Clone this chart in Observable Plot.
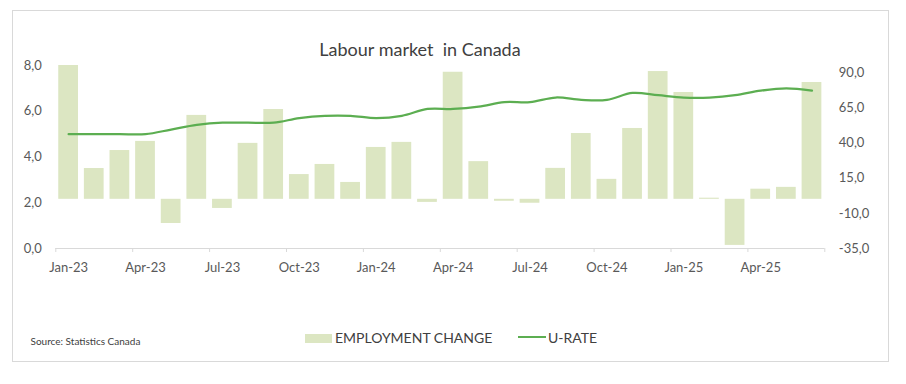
<!DOCTYPE html>
<html>
<head>
<meta charset="utf-8">
<script src="https://cdn.jsdelivr.net/npm/d3@7"></script>
<script src="https://cdn.jsdelivr.net/npm/@observablehq/plot@0.6"></script>
<style>
  body { margin: 0; background: #fff; }
  #wrap { position: relative; width: 906px; height: 384px; font-family: Lato, "Open Sans", sans-serif; overflow: hidden; }
  #frame { position: absolute; left: 12px; top: 10px; width: 877px; height: 352px; box-sizing: border-box; border: 1px solid #d9d9d9; }
  #chart { position: absolute; left: 0; top: 0; }
  .txt { position: absolute; line-height: 1; white-space: pre; }
  #title { left: 420px; top: 39.7px; font-size: 18px; color: #404040; transform: translateX(-50%); }
  #source { left: 30.5px; top: 336.3px; font-size: 10px; color: #404040; }
  .leg { font-size: 14px; color: #404040; top: 331px; }
  .sw { position: absolute; }
</style>
</head>
<body>
<div id="wrap">
  <div id="frame"></div>
  <div id="chart"></div>
  <div id="title" class="txt">Labour market  in Canada</div>
  <div class="sw" style="left:305px;top:334px;width:27px;height:9px;background:#dce6c2"></div>
  <div class="txt leg" style="left:335px">EMPLOYMENT CHANGE</div>
  <div class="sw" style="left:518px;top:336.3px;width:28px;height:2px;background:#5cae51"></div>
  <div class="txt leg" style="left:548px">U-RATE</div>
  <div id="source" class="txt">Source: Statistics Canada</div>
</div>
<script>
const months = [
  "Jan-23","Feb-23","Mar-23","Apr-23","May-23","Jun-23","Jul-23","Aug-23","Sep-23","Oct-23","Nov-23","Dec-23",
  "Jan-24","Feb-24","Mar-24","Apr-24","May-24","Jun-24","Jul-24","Aug-24","Sep-24","Oct-24","Nov-24","Dec-24",
  "Jan-25","Feb-25","Mar-25","Apr-25","May-25","Jun-25"
];
// Employment change (thousands), right axis
const employmentChange = [
  150, 21.9, 34.7, 41.2, -17.2, 59.7, -6.5, 39.8, 63.9, 17.6, 24.8, 12.0,
  36.9, 40.5, -2.2, 90.4, 26.8, -1.4, -2.8, 22.0, 46.8, 14.2, 50.4, 90.9,
  76.0, 0.8, -32.8, 7.2, 8.5, 83.1
];
// Unemployment rate (%), left axis
const uRate = [
  5.0, 5.0, 5.0, 5.0, 5.2, 5.4, 5.5, 5.5, 5.5, 5.7, 5.8, 5.8,
  5.7, 5.8, 6.1, 6.1, 6.2, 6.4, 6.4, 6.6, 6.5, 6.5, 6.8, 6.7,
  6.6, 6.6, 6.7, 6.9, 7.0, 6.9
];
const xTickLabels = ["Jan-23","Apr-23","Jul-23","Oct-23","Jan-24","Apr-24","Jul-24","Oct-24","Jan-25","Apr-25"];
const leftTicks = [0, 2, 4, 6, 8];
const rightTicks = [-35, -10, 15, 40, 65, 90];

const Y_MIN = -35, Y_MAX = 95.2, U_MAX = 8;
const uToY = u => Y_MIN + u * (Y_MAX - Y_MIN) / U_MAX;
const yToU = y => (y - Y_MIN) * U_MAX / (Y_MAX - Y_MIN);
const fmt = v => v.toFixed(1).replace(".", ",");

const barColor = "#dce6c2";
const lineColor = "#5cae51";
const idx = months.map((m, i) => i);

const chart = Plot.plot({
  width: 906,
  height: 384,
  marginLeft: 55.3,
  marginRight: 81.7,
  marginTop: 65,
  marginBottom: 136,
  style: { fontFamily: "Lato, 'Open Sans', sans-serif", fontSize: "13px", color: "#595959", background: "none", overflow: "visible" },
  x: { type: "linear", domain: [0, months.length] },
  y: { domain: [Y_MIN, Y_MAX] },
  marks: [
    Plot.rect(idx, {
      x1: i => i + 0.115, x2: i => i + 0.885,
      y1: 0, y2: i => employmentChange[i],
      fill: barColor, clip: true
    }),
    Plot.ruleY([Y_MIN], { stroke: "#d9d9d9" }),
    Plot.axisX({ ticks: d3.range(0, months.length + 1, 3), tickFormat: () => "", tickSize: 4, stroke: "#d9d9d9", label: null }),
    Plot.axisX({ ticks: xTickLabels.map(l => months.indexOf(l) + 0.5), tickFormat: x => months[Math.round(x - 0.5)], tickSize: 0, tickPadding: 14, label: null }),
    Plot.axisY({ anchor: "left", ticks: leftTicks.map(uToY), tickFormat: y => fmt(yToU(y)), tickSize: 0, tickPadding: 14, label: null }),
    Plot.axisY({ anchor: "right", ticks: rightTicks, tickFormat: fmt, tickSize: 0, tickPadding: 14, label: null, textAnchor: "start" }),
    Plot.line(idx, {
      x: i => i + 0.5, y: i => uToY(uRate[i]),
      stroke: lineColor, strokeWidth: 2.25, curve: "catmull-rom"
    })
  ]
});
document.getElementById("chart").appendChild(chart);
</script>
</body>
</html>
